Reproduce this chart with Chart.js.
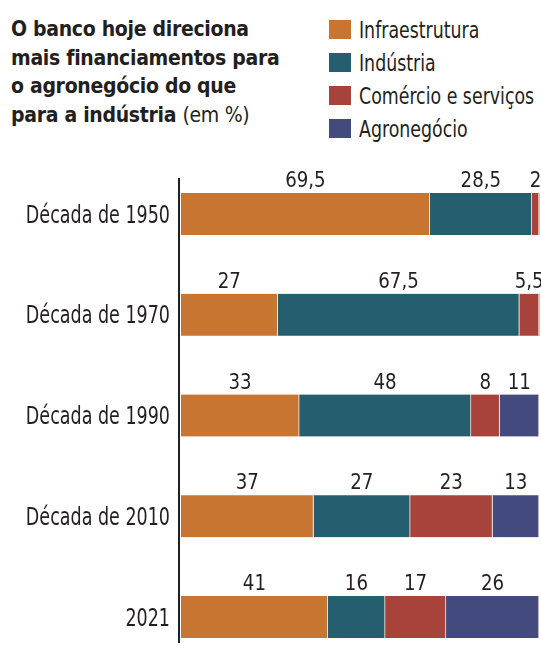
<!DOCTYPE html>
<html lang="pt-BR">
<head>
<meta charset="utf-8">
<title>Financiamentos por setor</title>
<script src="https://cdn.jsdelivr.net/npm/chart.js@4.4.1/dist/chart.umd.min.js"></script>
<style>
  html, body { margin: 0; padding: 0; background: #fff; overflow: hidden; }
  #wrap { position: relative; width: 541px; height: 646px; }
  #chart { position: absolute; left: 0; top: 0; }
  .title {
    position: absolute; left: 11px; top: 15px;
    font-family: "DejaVu Sans Condensed", sans-serif;
    font-weight: bold; font-size: 21px; line-height: 28.5px; color: #231f20;
    letter-spacing: -0.3px;
  }
  .title .unit { font-weight: normal; }
  .legend {
    position: absolute; left: 329px; top: 13px;
    font-family: "DejaVu Sans Condensed", sans-serif;
    font-size: 23px; color: #231f20;
  }
  .legend div { height: 33px; display: flex; align-items: center; white-space: nowrap; }
  .legend span.sw { display: inline-block; width: 22px; height: 19px; margin-right: 8px; flex: none; }
  .legend span.txt { display: inline-block; transform: scaleX(0.84); transform-origin: left center; }
</style>
</head>
<body>
<div id="wrap">
  <div class="title">O banco hoje direciona<br>mais financiamentos para<br>o agronegócio do que<br>para a indústria <span class="unit">(em %)</span></div>
  <div class="legend" id="legend"></div>
  <canvas id="chart" width="541" height="646"></canvas>
</div>
<script>
// ---- data ----
const categories = ['Década de 1950', 'Década de 1970', 'Década de 1990', 'Década de 2010', '2021'];
const seriesNames = ['Infraestrutura', 'Indústria', 'Comércio e serviços', 'Agronegócio'];
const infraestrutura = [69.5, 27, 33, 37, 41];
const industria = [28.5, 67.5, 48, 27, 16];
const comercio = [2, 5.5, 8, 23, 17];
const agronegocio = [0, 0, 11, 13, 26];
const colors = ['#c87532', '#245e6f', '#a8433b', '#434b7e'];

const seriesValues = [infraestrutura, industria, comercio, agronegocio];

// legend (html)
const legendEl = document.getElementById('legend');
seriesNames.forEach((name, i) => {
  const row = document.createElement('div');
  const sw = document.createElement('span');
  sw.className = 'sw';
  sw.style.background = colors[i];
  const txt = document.createElement('span');
  txt.className = 'txt';
  txt.textContent = name;
  row.appendChild(sw);
  row.appendChild(txt);
  legendEl.appendChild(row);
});

const font = '"DejaVu Sans Condensed", sans-serif';

// values above each segment
const valueLabels = {
  id: 'valueLabels',
  afterDatasetsDraw(chart) {
    const ctx = chart.ctx;
    ctx.save();
    ctx.font = '22px ' + font;
    ctx.fillStyle = '#231f20';
    ctx.textAlign = 'center';
    ctx.textBaseline = 'alphabetic';
    chart.data.datasets.forEach((ds, di) => {
      chart.getDatasetMeta(di).data.forEach((bar, i) => {
        const v = ds.data[i];
        if (!v) return;
        const cx = (bar.x + bar.base) / 2;
        const top = bar.y - bar.height / 2;
        ctx.save();
        ctx.translate(cx, top - 6);
        ctx.scale(0.92, 1);
        ctx.fillText(String(v).replace('.', ','), 0, 0);
        ctx.restore();
      });
    });
    ctx.restore();
  }
};

// category names, squeezed to look like a condensed face
const categoryLabels = {
  id: 'categoryLabels',
  afterDraw(chart) {
    const ctx = chart.ctx;
    const y = chart.scales.y;
    ctx.save();
    ctx.font = '24.5px ' + font;
    ctx.fillStyle = '#231f20';
    ctx.textAlign = 'right';
    ctx.textBaseline = 'alphabetic';
    chart.data.labels.forEach((lab, i) => {
      ctx.save();
      ctx.translate(y.right - 11, y.getPixelForTick(i) + 8.5);
      ctx.scale(0.795, 1);
      ctx.fillText(lab, 0, 0);
      ctx.restore();
    });
    ctx.restore();
  }
};

// vertical axis line, a bit longer than the bar area
const axisLine = {
  id: 'axisLine',
  afterDraw(chart) {
    const ctx = chart.ctx;
    const a = chart.chartArea;
    ctx.save();
    ctx.strokeStyle = '#231f20';
    ctx.lineWidth = 2;
    ctx.beginPath();
    ctx.moveTo(a.left - 2, a.top - 36);
    ctx.lineTo(a.left - 2, a.bottom + 26);
    ctx.stroke();
    ctx.restore();
  }
};

const ctx = document.getElementById('chart').getContext('2d');
new Chart(ctx, {
  type: 'bar',
  data: {
    labels: categories,
    datasets: seriesValues.map((vals, i) => ({
      label: seriesNames[i],
      data: vals,
      backgroundColor: colors[i],
      borderColor: '#fbe9dc',
      borderWidth: { left: 0, right: 1, top: 0, bottom: 0 },
      borderSkipped: false,
      barThickness: 42,
      clip: false
    }))
  },
  options: {
    indexAxis: 'y',
    responsive: false,
    animation: false,
    layout: { padding: { top: 214, bottom: 29, left: 0, right: 2 } },
    plugins: { legend: { display: false }, tooltip: { enabled: false } },
    scales: {
      x: { stacked: true, min: 0, max: 100, display: false },
      y: {
        stacked: true,
        offset: false,
        grid: { display: false },
        border: { display: false },
        afterFit(scale) { scale.width = 181; },
        ticks: { display: false }
      }
    }
  },
  plugins: [valueLabels, categoryLabels, axisLine]
});
</script>
</body>
</html>
